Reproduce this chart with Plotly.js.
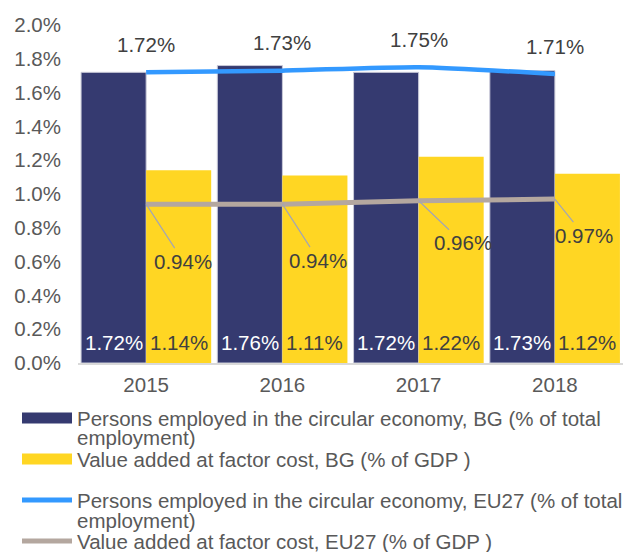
<!DOCTYPE html>
<html>
<head>
<meta charset="utf-8">
<script src="https://cdn.plot.ly/plotly-3.0.1.min.js"></script>
<style>html,body{margin:0;padding:0;background:#fff;}#chart{width:623px;height:552px;}</style>
</head>
<body>
<div id="chart"></div>
<script>
// ---- data ----
var years = ['2015', '2016', '2017', '2018'];
var bgEmployment = [1.72, 1.76, 1.72, 1.73];
var bgValueAdded = [1.14, 1.11, 1.22, 1.12];
var euEmployment = [1.72, 1.73, 1.75, 1.71];
var euValueAdded = [0.94, 0.94, 0.96, 0.97];
var seriesNames = [
  'Persons employed in the circular economy, BG (% of total<br>employment)',
  'Value added at factor cost, BG (% of GDP )',
  'Persons employed in the circular economy, EU27 (% of total<br>employment)',
  'Value added at factor cost, EU27 (% of GDP )'
];

// ---- styles ----
var FONT = 'Liberation Sans, Arial, sans-serif';
var FS = 20.5;
var navy = '#353A70', yellow = '#FFD623', blue = '#3399FF', taupe = '#B4A79F';
var W = 623, H = 552, L = 78, R = 0, T = 25, B = 189;
var pw = W - L - R, ph = H - T - B;
function px(x) { return (x - L) / pw; }
function py(y) { return (H - B - y) / ph; }
function fmt(v) { return v.toFixed(2) + '%'; }

var traces = [
  {type: 'bar', x: years, y: bgEmployment, name: seriesNames[0],
   marker: {color: navy, line: {color: '#c9cad8', width: 1}}, hoverinfo: 'none'},
  {type: 'bar', x: years, y: bgValueAdded, name: seriesNames[1],
   marker: {color: yellow, line: {width: 0}}, hoverinfo: 'none'},
  {type: 'scatter', mode: 'lines', x: years, y: euEmployment, name: seriesNames[2],
   line: {color: blue, width: 4.5, shape: 'spline', smoothing: 0.6}, hoverinfo: 'none'},
  {type: 'scatter', mode: 'lines', x: years, y: euValueAdded, name: seriesNames[3],
   line: {color: taupe, width: 5, shape: 'spline', smoothing: 0.6}, hoverinfo: 'none'}
];

var annotations = [];
var shapes = [];
var halfBar = pw / years.length * 0.955 / 4;
var lbl = {family: FONT, size: FS, color: '#404040'};

for (var i = 0; i < years.length; i++) {
  // bar value labels at bottom of bars (x given as category index)
  annotations.push({x: i, y: 0, xref: 'x', yref: 'y', text: fmt(bgEmployment[i]),
    showarrow: false, xshift: -halfBar, yshift: 21, yanchor: 'middle',
    font: {family: FONT, size: FS, color: '#ffffff'}});
  annotations.push({x: i, y: 0, xref: 'x', yref: 'y', text: fmt(bgValueAdded[i]),
    showarrow: false, xshift: halfBar, yshift: 21, yanchor: 'middle', font: lbl});
  // EU employment labels above line
  annotations.push({x: i, y: euEmployment[i], xref: 'x', yref: 'y', text: fmt(euEmployment[i]),
    showarrow: false, yshift: 28, yanchor: 'middle', font: lbl});
}
// EU value-added labels with leader lines
var offs = [[37, 57], [36, 56], [44, 42], [29, 36]];
for (var j = 0; j < years.length; j++) {
  annotations.push({x: j, y: euValueAdded[j], xref: 'x', yref: 'y', text: fmt(euValueAdded[j]),
    showarrow: true, arrowhead: 0, arrowwidth: 1.2, arrowcolor: '#A3A5B5', standoff: 0,
    ax: offs[j][0], ay: offs[j][1], font: lbl});
}

// custom legend
var legendY = [418, 459, 500, 541];
var legendFont = {family: FONT, size: FS, color: '#595959'};
for (var k = 0; k < seriesNames.length; k++) {
  var yc = legendY[k];
  if (k < 2) {
    shapes.push({type: 'rect', xref: 'paper', yref: 'paper',
      x0: px(22), x1: px(72), y0: py(yc - 5.5), y1: py(yc + 5.5),
      fillcolor: k === 0 ? navy : yellow, line: {width: 0}});
  } else {
    shapes.push({type: 'line', xref: 'paper', yref: 'paper',
      x0: px(22), x1: px(72), y0: py(yc), y1: py(yc),
      line: {color: k === 2 ? blue : taupe, width: 5}});
  }
  var parts = seriesNames[k].split('<br>');
  for (var p = 0; p < parts.length; p++) {
    annotations.push({xref: 'paper', yref: 'paper', x: px(75), y: py(yc + p * 20),
      xanchor: 'left', yanchor: 'middle', text: parts[p], showarrow: false, font: legendFont});
  }
}

var layout = {
  width: W, height: H,
  margin: {l: L, r: R, t: T, b: B, pad: 0},
  paper_bgcolor: '#ffffff', plot_bgcolor: '#ffffff',
  barmode: 'group', bargap: 0.045, bargroupgap: 0,
  showlegend: false,
  font: {family: FONT, size: FS, color: '#595959'},
  xaxis: {type: 'category', range: [-0.5, years.length - 0.5], autorange: false,
    showgrid: false, zeroline: false,
    showline: true, linecolor: '#D9D9D9', linewidth: 1.5,
    ticks: '', ticklabelstandoff: 3, tickfont: {family: FONT, size: FS, color: '#595959'}},
  yaxis: {range: [0, 2.0], autorange: false, dtick: 0.2, tickformat: '.1f', ticksuffix: '%',
    showgrid: false, zeroline: false, showline: false, ticks: '',
    ticklabelstandoff: 16, tickfont: {family: FONT, size: FS, color: '#595959'}},
  annotations: annotations,
  shapes: shapes
};

Plotly.newPlot('chart', traces, layout, {displayModeBar: false, staticPlot: true});
</script>
</body>
</html>
